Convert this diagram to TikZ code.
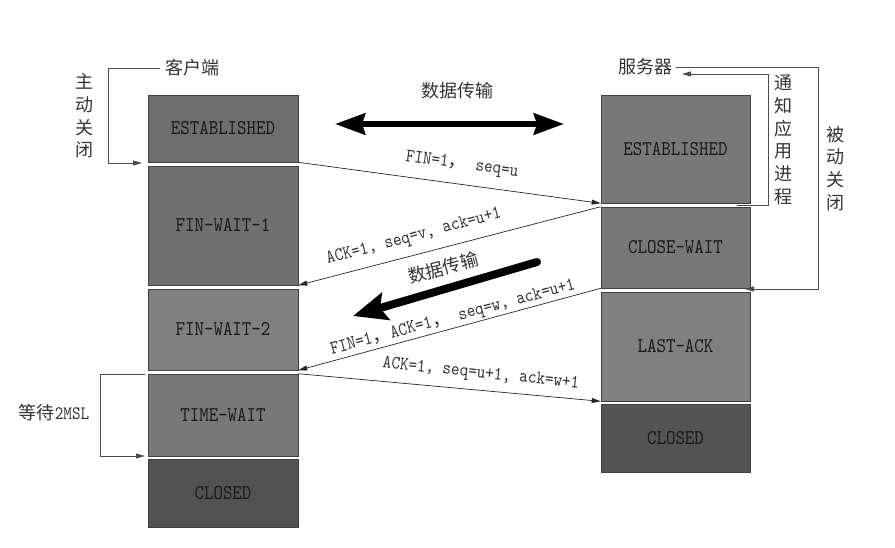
\documentclass[tikz,border=0pt]{standalone}
\usepackage{fontspec}
\setmainfont{Liberation Serif}
\newfontfamily\cjk{Noto Sans CJK SC}
\newfontfamily\boxfont[FakeStretch=0.86]{lmmono10-regular.otf}
\usetikzlibrary{arrows.meta}
\begin{document}
\begin{tikzpicture}[x=1pt,y=-1pt,
  state/.style={draw=black!75, line width=0.6pt, inner sep=0pt,
    font=\boxfont\fontsize{21}{24}\selectfont, text=black!90},
  msg/.style={draw=black!85, line width=0.7pt, -{Triangle[length=9pt,width=5pt]}},
  lbl/.style={font=\boxfont\fontsize{19}{22}\selectfont, text=black!80, inner sep=0pt},
  cjklbl/.style={font=\cjk\fontsize{18}{22.7}\selectfont, text=black!80, align=center, inner sep=0pt},
  loopline/.style={draw=black!70, line width=0.8pt, -{Triangle[length=9pt,width=5pt]}}
]
\useasboundingbox (0,0) rectangle (895,547);
% left states
\node[state, fill=black!57, minimum width=150pt, minimum height=67pt]  (lest) at (223,128.5) {ESTABLISHED};
\node[state, fill=black!56, minimum width=150pt, minimum height=119pt] (lfw1) at (223,225.5) {FIN-WAIT-1};
\node[state, fill=black!50, minimum width=150pt, minimum height=81pt]  (lfw2) at (223,329.5) {FIN-WAIT-2};
\node[state, fill=black!53, minimum width=150pt, minimum height=82pt]  (ltw)  at (223,415)   {TIME-WAIT};
\node[state, fill=black!68, minimum width=150pt, minimum height=68pt]  (lcl)  at (223,493)   {CLOSED};
% right states
\node[state, fill=black!53, minimum width=149pt, minimum height=108pt] (rest) at (675.5,149)   {ESTABLISHED};
\node[state, fill=black!53, minimum width=149pt, minimum height=81pt]  (rcw)  at (675.5,247.5) {CLOSE-WAIT};
\node[state, fill=black!50, minimum width=149pt, minimum height=109pt] (rla)  at (675.5,346.5) {LAST-ACK};
\node[state, fill=black!67, minimum width=149pt, minimum height=68pt]  (rcl)  at (675.5,438)   {CLOSED};
% messages
\draw[msg] (lest.south east) -- (rest.south west);
\draw[msg] (rcw.north west) -- (lfw1.south east);
\draw[msg] (rcw.south west) -- (lfw2.south east);
\draw[msg] (ltw.north east) -- (rla.south west);
\node[lbl, rotate=-7.7] (m1) at (462,165) {FIN=1{\cjk ，} seq=u};
\node[lbl, rotate=15]   (m2) at (414,237) {ACK=1, seq=v, ack=u+1};
\node[lbl, rotate=15]   (m3) at (453,318) {FIN=1{\cjk ，}ACK=1{\cjk ，} seq=w, ack=u+1};
\node[lbl, rotate=-6]   (m4) at (481,374) {ACK=1, seq=u+1, ack=w+1};
% data transfer arrows
\node[cjklbl] (dt1) at (457,91) {数据传输};
\coordinate (dl) at (335,124);
\coordinate (dr) at (564,124);
\draw[line width=6pt, {Stealth[length=30pt,width=21pt,inset=3pt]}-{Stealth[length=30pt,width=21pt,inset=3pt]}] (dl) -- (dr);
\node[cjklbl, rotate=15] (dt2) at (443,268) {数据传输};
\coordinate (ts) at (537,262);
\coordinate (te) at (353,316);
\draw[line width=8pt, line cap=round, -{Stealth[length=34pt,width=28pt,inset=6pt]}] (ts) -- (te);
% client loop
\node[cjklbl] (client) at (192,68) {客户端};
\coordinate (c2) at (108,163);
\coordinate (c3) at (142,163);
\draw[loopline, shorten <=5pt] (client.west) -| (c2) -- (c3);
\node[cjklbl] (active) at (84,116) {主\\动\\关\\闭};
% server loops
\node[cjklbl] (server) at (645,67) {服务器};
\coordinate (o1) at (818,289);
\coordinate (o2) at (745,289);
\draw[loopline, shorten <=4pt] (server.east) -| (o1) -- (o2);
\coordinate (i0) at (737,205);
\coordinate (i1) at (768,74);
\coordinate (i2) at (682,74);
\draw[loopline] (i0) -| (i1) -- (i2);
\node[cjklbl] (notify) at (783,140) {通\\知\\应\\用\\进\\程};
\node[cjklbl] (passive) at (835,168.5) {被\\动\\关\\闭};
% time-wait loop
\coordinate (w0) at (145,374);
\coordinate (w1) at (100,374);
\coordinate (w2) at (100,456);
\coordinate (w3) at (145,456);
\draw[loopline] (w0) -- (w1) -- (w2) -- (w3);
\node[cjklbl] (msl) at (54,413) {等待{\boxfont\fontsize{19}{20}\selectfont 2MSL}};
\end{tikzpicture}
\end{document}
